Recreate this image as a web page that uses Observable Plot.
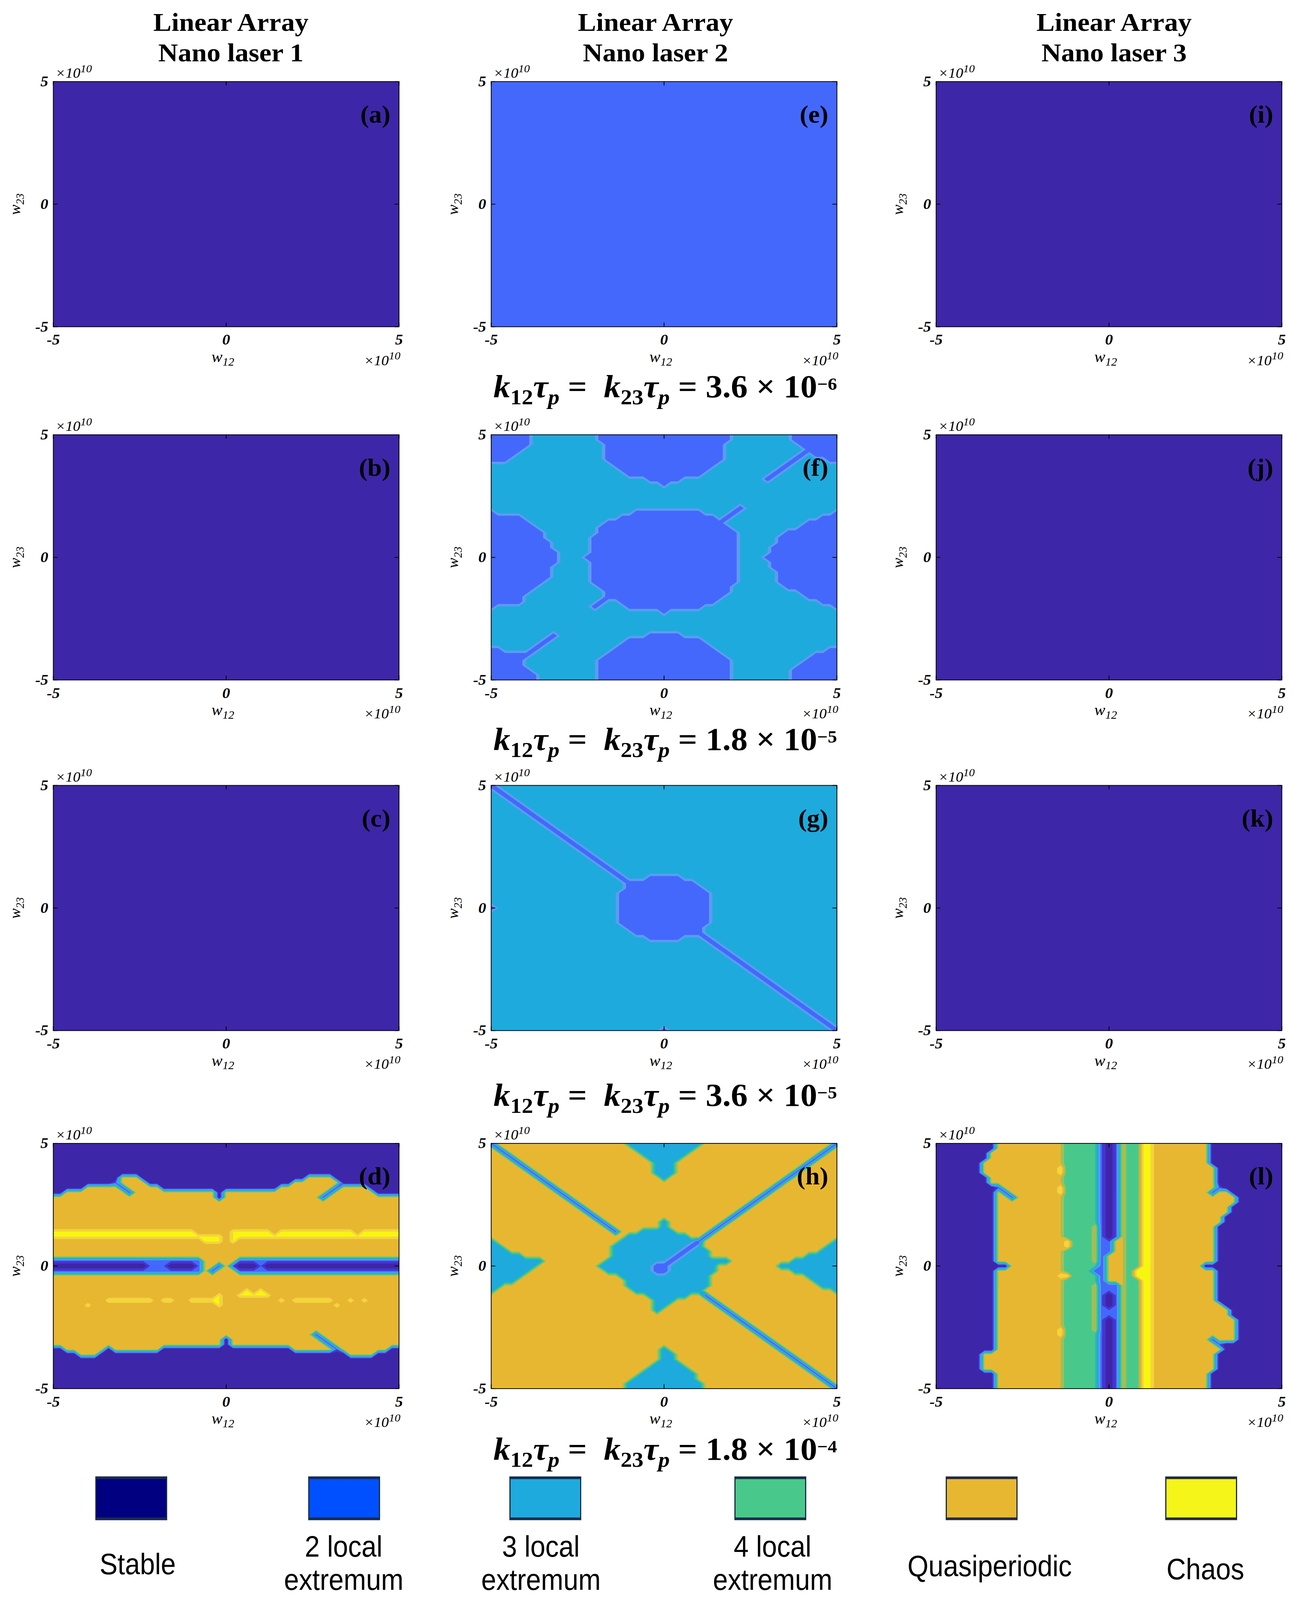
<!DOCTYPE html>
<html><head><meta charset="utf-8">
<script src="https://cdn.jsdelivr.net/npm/d3@7"></script>
<script src="https://cdn.jsdelivr.net/npm/@observablehq/plot@0.6"></script>
<style>
html,body{margin:0;background:#fff;overflow:hidden}
#page{position:relative;width:3328px;height:4326px;background:#fff;overflow:hidden;transform-origin:0 0}
.abs{position:absolute;white-space:nowrap;color:#000}
.title{font-family:"Liberation Serif","Times New Roman",serif;font-weight:bold;font-size:70px;line-height:83px;text-align:center;width:900px}
.cap{font-family:"Liberation Serif","Times New Roman",serif;font-weight:bold;font-size:86px;line-height:60px;text-align:center;width:1400px}
.cap sub{font-size:0.68em;vertical-align:-0.32em;line-height:0}
.cap sup{font-size:0.55em;vertical-align:0.42em;line-height:0}
.ax{font-family:"Liberation Serif","Times New Roman",serif;font-style:italic;font-size:42px;line-height:42px}
.ax sub{font-size:0.72em;vertical-align:-0.3em;line-height:0}
.ax sup{font-size:0.78em;vertical-align:0.5em;line-height:0}
.ax.mag{font-size:38px}
.leg{font-family:"Liberation Sans",Arial,sans-serif;font-size:80px;line-height:90px;text-align:center;width:700px}
.leg span{display:inline-block;transform:scaleX(0.86);transform-origin:center}
.box{position:absolute;box-sizing:border-box;border-style:solid;border-color:#1c2b4b;border-width:7px 3px}
</style></head>
<body><div id="page"></div>
<script>
// ---------------- data ----------------
const w12Ticks = [-5, 0, 5];
const w23Ticks = [-5, 0, 5];
const categories = ["Stable", "2 local\nextremum", "3 local\nextremum", "4 local\nextremum", "Quasiperiodic", "Chaos"];
const legendColors = ["#000080", "#0050ff", "#1eaadd", "#48c98b", "#e8b732", "#f5f51a"];
const levels = [1, 1.5, 2, 2.5, 3, 3.5, 4, 4.5, 5, 5.5, 6];
const levelColors = ["#3e26a8", "#4535d2", "#4468fc", "#5b9cf0", "#1eaadd", "#27b9ae", "#48c98b", "#a4be55", "#e8b732", "#f3d43c", "#f8f510"];
const columnTitles = ["Nano laser 1", "Nano laser 2", "Nano laser 3"];
const couplingMantissa = ["3.6", "1.8", "3.6", "1.8"];
const couplingExponent = ["−6", "−5", "−5", "−4"];
const panelLetters = [["a", "e", "i"], ["b", "f", "j"], ["c", "g", "k"], ["d", "h", "l"]];
const panelBackground = [[1, 2, 1], [1, 3, 1], [1, 3, 1], [5, 5, 5]];

// regime grids: 51 x 51 samples (w12, w23 from -5e10 to 5e10); [rows, "cols=category ..."]
const regionsF = [
 ["0-1", "0-5=2 16-34=2 44-50=2"],
 ["2", "0-5=2 17-33=2 45-50=2"],
 ["3", "0-4=2 17-33=2 46-50=2"],
 ["4", "0-3=2 17-33=2 45=2 47-50=2"],
 ["5", "0-2=2 17-33=2 44=2 49-50=2"],
 ["6", "18-32=2 43=2"],
 ["7", "19-31=2 42=2"],
 ["8", "20-30=2 41=2"],
 ["9", "23-27=2 40=2"],
 ["10", "25=2"],
 ["15", "36=2"],
 ["16", "0=2 21-30=2 35=2 50=2"],
 ["17", "0-4=2 19-32=2 34=2 48-50=2"],
 ["18", "0-5=2 17-33=2 46-50=2"],
 ["19", "0-6=2 16-34=2 45-50=2"],
 ["20", "0-7=2 16-35=2 43-50=2"],
 ["21", "0-7=2 15-35=2 42-50=2"],
 ["22", "0-8=2 15-35=2 42-50=2"],
 ["23", "0-8=2 15-35=2 41-50=2"],
 ["24", "0-9=2 15-35=2 41-50=2"],
 ["25", "0-9=2 14-35=2 40-50=2"],
 ["26", "0-9=2 15-35=2 41-50=2"],
 ["27", "0-8=2 15-35=2 41-50=2"],
 ["28-29", "0-8=2 15-35=2 42-50=2"],
 ["30", "0-7=2 15-35=2 42-50=2"],
 ["31", "0-6=2 16-34=2 43-50=2"],
 ["32", "0-5=2 17-34=2 45-50=2"],
 ["33", "0-4=2 17-33=2 46-50=2"],
 ["34", "0-4=2 16=2 19-32=2 48-50=2"],
 ["35", "0=2 15=2 20-30=2 50=2"],
 ["36", "25=2"],
 ["41", "9=2 23-27=2"],
 ["42", "8=2 20-30=2"],
 ["43", "7=2 19-31=2"],
 ["44", "0-1=2 6=2 18-32=2 49-50=2"],
 ["45", "0-5=2 17-33=2 47-50=2"],
 ["46", "0-4=2 16-34=2 46-50=2"],
 ["47", "0-4=2 16-34=2 45-50=2"],
 ["48", "0-5=2 16-34=2 44-50=2"],
 ["49-50", "0-6=2 16-34=2 44-50=2"]
];
const regionsG = [
 ["0", "0=2"], ["1", "1=2"], ["2", "2=2"], ["3", "3=2"], ["4", "4=2"], ["5", "5=2"], ["6", "6=2"],
 ["7", "7=2"], ["8", "8=2"], ["9", "9=2"], ["10", "10=2"], ["11", "11=2"], ["12", "12=2"],
 ["13", "13=2"], ["14", "14=2"], ["15", "15=2"], ["16", "16=2"], ["17", "17=2"], ["18", "18=2"],
 ["19", "19=2 23-27=2"],
 ["20", "20-29=2"],
 ["21", "20-30=2"],
 ["22-24", "19-31=2"],
 ["25", "0=2 19-31=2"],
 ["26-28", "19-31=2"],
 ["29", "20-30=2"],
 ["30", "21-30=2"],
 ["31", "23-27=2 31=2"],
 ["32", "32=2"], ["33", "33=2"], ["34", "34=2"], ["35", "35=2"], ["36", "36=2"], ["37", "37=2"],
 ["38", "38=2"], ["39", "39=2"], ["40", "40=2"], ["41", "41=2"], ["42", "42=2"], ["43", "43=2"],
 ["44", "44=2"], ["45", "45=2"], ["46", "46=2"], ["47", "47=2"], ["48", "48=2"], ["49", "49=2"],
 ["50", "25=2 50=2"]
];
const regionsD = [
 ["0-6", "0-50=1"],
 ["7", "0-9=1 13-36=1 41-50=1"],
 ["8", "0-8=1 14-34=1 42-50=1 9=2"],
 ["9", "0-4=1 16-32=1 46-50=1 10=2 41=2"],
 ["10", "0-1=1 24=1 47-50=1 11=2 40=2"],
 ["11", "24=1 39=2"],
 ["18", "0-20=6 26-31=6 33-43=6 45-50=6"],
 ["19", "0-24=6 26-50=6"],
 ["20", "22-24=6 26=6"],
 ["24", "0-21=2 27-50=2"],
 ["25", "0-13=1 14-16=2 17-20=1 21=2 24=2 26=2 27-29=1 30=2 31-50=1"],
 ["26", "0-21=2 23=2 27-50=2"],
 ["30", "28=6 30=6"],
 ["31", "24=6 27-31=6"],
 ["32", "8-14=6 16-17=6 20-24=6 33=6 35-40=6 43=6 45=6"],
 ["33", "5=6 24=6 41=6"],
 ["39", "38=2"],
 ["40", "25=1 39=2"],
 ["41", "25=1 40=2"],
 ["42", "0-1=1 8=1 16-34=1 49-50=1 41=2"],
 ["43", "0-3=1 7-42=1 47-50=1"],
 ["44-50", "0-50=1"]
];
const regionsH = [
 ["0", "20-30=3 0=2 50=2"],
 ["1", "21-29=3 1=2 49=2"],
 ["2", "22-28=3 2=2 48=2"],
 ["3", "23-27=3 3=2 47=2"],
 ["4", "24-26=3 4=2 46=2"],
 ["5", "24-26=3 5=2 45=2"],
 ["6", "24-26=3 6=2 44=2"],
 ["7", "25=3 7=2 43=2"],
 ["8", "8=2 42=2"], ["9", "9=2 41=2"], ["10", "10=2 40=2"], ["11", "11=2 39=2"],
 ["12", "12=2 38=2"], ["13", "13=2 37=2"], ["14", "14=2 36=2"], ["15", "15=2 35=2"],
 ["16", "25=3 16=2 34=2"],
 ["17", "25=3 17=2 33=2"],
 ["18", "22-26=3 18=2 32=2"],
 ["19", "20-28=3 31=2"],
 ["20", "0=3 19-29=3 50=3 30=2"],
 ["21", "0-1=3 18-30=3 49-50=3 29=2"],
 ["22", "0-2=3 18-31=3 48-50=3 28=2"],
 ["23", "0-4=3 18-31=3 46-50=3 27=2"],
 ["24", "0-7=3 17-34=3 44-50=3 26=2"],
 ["25", "0-6=3 16-32=3 42-50=3 24-25=2"],
 ["26", "0-5=3 17-32=3 44-50=3 24-25=2"],
 ["27", "0-4=3 19-31=3 46-50=3"],
 ["28", "0-3=3 20-31=3 47-50=3"],
 ["29", "0-1=3 20-31=3 48-50=3"],
 ["30", "0=3 21-30=3 50=3"],
 ["31", "23-28=3 31=2"],
 ["32", "24-26=3 32=2"],
 ["33", "24-25=3 33=2"],
 ["34", "24=3 34=2"],
 ["35", "35=2"], ["36", "36=2"], ["37", "37=2"], ["38", "38=2"], ["39", "39=2"], ["40", "40=2"], ["41", "41=2"],
 ["42", "25=3 42=2"],
 ["43", "25-26=3 43=2"],
 ["44", "25-26=3 44=2"],
 ["45", "24-27=3 45=2"],
 ["46", "23-28=3 46=2"],
 ["47", "22-29=3 47=2"],
 ["48", "21-29=3 48=2"],
 ["49", "20-30=3 49=2"],
 ["50", "20-30=3 50=2"]
];
const lCore = "19-23=4 24=2 25=1 26=2 27=5 28-29=4 30-31=6";
const regionsL = [
 ["0-1", `0-8=1 ${lCore} 40-50=1`],
 ["2-3", `0-7=1 ${lCore} 40-50=1`],
 ["4", `0-6=1 ${lCore} 40-50=1`],
 ["5-6", `0-6=1 ${lCore} 41-50=1 18=6`],
 ["7-8", `0-7=1 ${lCore} 41-50=1`],
 ["9", `0-8=1 ${lCore} 42-50=1 9=2 18=6 41=2`],
 ["10", `0-8=1 ${lCore} 43-50=1 10=2 18=6 40=2`],
 ["11", `0-8=1 ${lCore} 44-50=1 11=2`],
 ["12", `0-8=1 ${lCore} 44-50=1`],
 ["13-14", `0-8=1 ${lCore} 43-50=1`],
 ["15-16", `0-8=1 ${lCore} 42-50=1`],
 ["17-19", `0-8=1 ${lCore} 41-50=1 23=5`],
 ["20-21", `0-8=1 ${lCore} 41-50=1 23=5 19=6 25=2 26-27=5`],
 ["22", `0-8=1 ${lCore} 41-50=1 23=5 25=2 26-27=5`],
 ["23-24", `0-8=1 ${lCore} 41-50=1 23=5 25-26=5`],
 ["25", `0-10=1 ${lCore} 39-50=1 25-26=5`],
 ["26", `0-8=1 ${lCore} 41-50=1 23=2 25-26=5 29=6`],
 ["27", `0-8=1 ${lCore} 41-50=1 18-19=6 25-26=5 29=6`],
 ["28", `0-8=1 ${lCore} 41-50=1 25-26=5`],
 ["29-30", `0-8=1 ${lCore} 41-50=1 23=5 25=2`],
 ["31-32", `0-8=1 ${lCore} 41-50=1 23=5`],
 ["33", `0-8=1 ${lCore} 42-50=1 23=5`],
 ["34-35", `0-8=1 ${lCore} 43-50=1 23=5 25=2`],
 ["36-37", `0-8=1 ${lCore} 44-50=1 23=5`],
 ["38", `0-8=1 ${lCore} 44-50=1 23=5 18=6`],
 ["39", `0-8=1 ${lCore} 44-50=1 18=6`],
 ["40", `0-8=1 ${lCore} 44-50=1 40=2`],
 ["41", `0-8=1 ${lCore} 42-50=1 41=2`],
 ["42", `0-8=1 ${lCore} 42-50=1`],
 ["43-46", `0-6=1 ${lCore} 41-50=1`],
 ["47-50", `0-8=1 ${lCore} 40-50=1`]
];
const panelRegions = [[[], [], []], [[], regionsF, []], [[], regionsG, []], [regionsD, regionsH, regionsL]];

// ---------------- layout ----------------
const N = 51;
const ML = 80, MR = 20, MT = 20, MB = 70, W = 885, H = 663;
const frameLeft = [136, 1257, 2396];
const frameTop = [220, 1175, 2123, 3091];
const titleX = [591, 1678, 2852];
const captionBaseline = [1074, 2028, 2990, 3947];
const serif = '"Liberation Serif", "Times New Roman", serif';
const page = document.getElementById("page");

function buildGrid(bg, regions) {
  const g = new Array(N * N).fill(bg);
  for (const [rowKey, spec] of regions) {
    const [r0, r1 = r0] = String(rowKey).split("-").map(Number);
    for (let r = r0; r <= r1; r++) {
      for (const tok of spec.trim().split(/\s+/)) {
        if (!tok) continue;
        const [range, v] = tok.split("=");
        const [c0, c1 = c0] = range.split("-").map(Number);
        for (let c = c0; c <= c1; c++) g[r * N + c] = +v;
      }
    }
  }
  return g;
}

function makePanel(grid, bg, letter) {
  return Plot.plot({
    width: ML + W + MR, height: MT + H + MB,
    marginLeft: ML, marginRight: MR, marginTop: MT, marginBottom: MB,
    style: {fontFamily: serif, fontWeight: "bold", fontStyle: "italic", background: "none", overflow: "visible", color: "#000"},
    x: {domain: [-5, 5]},
    y: {domain: [-5, 5]},
    color: {type: "ordinal", domain: levels, range: levelColors},
    marks: [
      Plot.frame({fill: levelColors[levels.indexOf(bg)]}),
      Plot.contour(grid, {width: N, height: N, x1: -5.1, x2: 5.1, y1: 5.1, y2: -5.1,
        thresholds: levels, fill: Plot.identity, stroke: "none", clip: true}),
      Plot.tickX(w12Ticks, {x: Plot.identity, insetTop: H - 11, stroke: "#000", strokeWidth: 2}),
      Plot.tickX(w12Ticks, {x: Plot.identity, insetBottom: H - 11, stroke: "#000", strokeWidth: 2}),
      Plot.tickY(w23Ticks, {y: Plot.identity, insetRight: W - 11, stroke: "#000", strokeWidth: 2}),
      Plot.tickY(w23Ticks, {y: Plot.identity, insetLeft: W - 11, stroke: "#000", strokeWidth: 2}),
      Plot.frame({stroke: "#000", strokeWidth: 2}),
      Plot.axisX(w12Ticks, {anchor: "bottom", tickSize: 0, tickPadding: 20, fontSize: 40, tickFormat: d => String(d), label: null}),
      Plot.axisY(w23Ticks, {anchor: "left", tickSize: 0, tickPadding: 13, fontSize: 40, tickFormat: d => String(d), label: null}),
      Plot.text([`(${letter})`], {frameAnchor: "top-right", dx: -22, dy: 64, fontSize: 66, fontWeight: "bold", fontStyle: "normal", textAnchor: "end", fill: "#000"})
    ]
  });
}

function addDiv(cls, html, left, top, extra = {}) {
  const d = document.createElement("div");
  d.className = "abs " + cls;
  d.innerHTML = html;
  d.style.left = left + "px";
  d.style.top = top + "px";
  Object.assign(d.style, extra);
  page.appendChild(d);
  return d;
}

// column titles
columnTitles.forEach((t, c) => addDiv("title", `Linear Array<br>${t}`, titleX[c] - 450, 18));

// panels
const AXB = 35;  // baseline offset for .ax (42px)
const MAGB = 34; // baseline offset for .ax.mag (38px)
for (let r = 0; r < 4; r++) {
  for (let c = 0; c < 3; c++) {
    const bg = panelBackground[r][c];
    const grid = buildGrid(bg, panelRegions[r][c]);
    const svg = makePanel(grid, bg, panelLetters[r][c]);
    svg.style.position = "absolute";
    svg.style.left = (frameLeft[c] - ML) + "px";
    svg.style.top = (frameTop[r] - MT) + "px";
    page.appendChild(svg);
    const L = frameLeft[c], T = frameTop[r];
    addDiv("ax mag", "×10<sup>10</sup>", L + 6, T - 10 - MAGB);
    addDiv("ax mag", "×10<sup>10</sup>", L + W + 4 - 300, T + H + 104 - MAGB, {width: "300px", textAlign: "right"});
    addDiv("ax", "w<sub>12</sub>", L + W / 2 - 8 - 100, T + H + 96 - AXB, {width: "200px", textAlign: "center"});
    addDiv("ax", "w<sub>23</sub>", L - 98 - 100, T + H / 2 - 21, {width: "200px", textAlign: "center", transform: "rotate(-90deg)"});
  }
}

// coupling captions
captionBaseline.forEach((b, i) => {
  const html = `<i>k</i><sub>12</sub><i>τ</i><sub><i>p</i></sub> =&nbsp; <i>k</i><sub>23</sub><i>τ</i><sub><i>p</i></sub> = ${couplingMantissa[i]} × 10<sup>${couplingExponent[i]}</sup>`;
  addDiv("cap", html, 1703 - 700, b - 59);
});

// legend
const boxCenter = [336, 881, 1396, 1972, 2513, 3075];
const labelCenter = [352, 880, 1385, 1978, 2534, 3086];
const labelBaseline = [4257, 4210, 4210, 4210, 4263, 4271];
categories.forEach((name, k) => {
  const b = document.createElement("div");
  b.className = "box";
  Object.assign(b.style, {left: (boxCenter[k] - 92) + "px", top: "3992px", width: "184px", height: "118px", background: legendColors[k]});
  page.appendChild(b);
  const html = name.split("\n").map(s => `<span>${s}</span>`).join("<br>");
  addDiv("leg", html, labelCenter[k] - 350, labelBaseline[k] - 73);
});

// fit the 3328 x 4326 figure into the actual viewport
function fit() {
  const sx = window.innerWidth / 3328, sy = window.innerHeight / 4326;
  if (sy < 0.999 || sx < 0.999) page.style.transform = `scale(${Math.min(1, sx)}, ${Math.min(1, sy)})`;
}
fit();
</script></body></html>
